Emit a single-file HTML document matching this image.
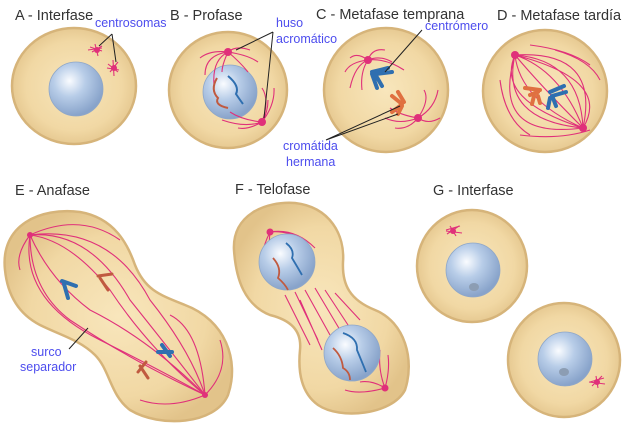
<!DOCTYPE html>
<html><head><meta charset="utf-8"><style>
html,body{margin:0;padding:0;background:#fff;}
svg{display:block;}
text{font-family:"Liberation Sans",sans-serif;}
.t{font-size:14.5px;fill:#333;}
.b{font-size:12.5px;fill:#4d4dee;}
.cell{fill:url(#cg);stroke:#d6b47a;stroke-width:2.5;}
.nuc{fill:url(#ng);stroke:#8fa7c8;stroke-width:0.8;}
.sp{fill:none;stroke:#e0307a;stroke-width:1.1;}
.ln{stroke:#222;stroke-width:1;fill:none;}
</style></head><body>
<svg width="624" height="426" viewBox="0 0 624 426" xmlns="http://www.w3.org/2000/svg">
<defs>
<radialGradient id="cg" cx="50%" cy="50%" r="55%">
<stop offset="0" stop-color="#f8e6bc"/><stop offset="0.7" stop-color="#f1d8a4"/><stop offset="1" stop-color="#e2c38a"/>
</radialGradient>
<radialGradient id="ng" cx="38%" cy="35%" r="65%">
<stop offset="0" stop-color="#fafcff"/><stop offset="0.45" stop-color="#b8cde8"/><stop offset="1" stop-color="#88a3ca"/>
</radialGradient>
</defs>

<text class="t" x="15" y="20">A - Interfase</text>
<text class="t" x="170" y="20">B - Profase</text>
<text class="t" x="316" y="19">C - Metafase temprana</text>
<text class="t" x="497" y="20">D - Metafase tardía</text>
<text class="t" x="15" y="195">E - Anafase</text>
<text class="t" x="235" y="194">F - Telofase</text>
<text class="t" x="433" y="195">G - Interfase</text>

<!-- A -->
<ellipse class="cell" cx="74" cy="86" rx="62" ry="58"/>
<circle class="nuc" cx="76" cy="89" r="27"/>
<g class="sp"><path d="M90,47 l12,4 M92,52 l10,-6 M95,44 l3,12 M88,50 l14,-2 M108,64 l10,8 M110,72 l8,-10 M113,60 l1,16 M107,68 l12,2"/></g>
<circle cx="97" cy="50" r="3" fill="#e0307a"/><circle cx="114" cy="68" r="3" fill="#e0307a"/>
<path class="ln" d="M112,34 L99,46 M112,34 L116,62"/>
<text class="b" x="95" y="27">centrosomas</text>

<!-- B -->
<ellipse class="cell" cx="228" cy="90" rx="59" ry="58"/>
<circle class="nuc" cx="230" cy="92" r="27"/>
<g class="sp">
<path d="M228,52 Q205,55 205,75 M228,52 Q212,60 214,85 M228,52 Q222,65 222,72 M228,52 Q240,62 248,72 M228,52 Q248,55 258,62 M228,52 Q210,50 200,58 M228,52 Q236,45 250,50"/>
<path d="M262,122 Q245,128 222,120 M262,122 Q242,120 230,112 M262,122 Q270,100 262,88 M262,122 Q275,105 274,88 M262,122 Q248,130 238,128 M262,122 Q268,112 268,100"/>
</g>
<circle cx="228" cy="52" r="4" fill="#e0307a"/><circle cx="262" cy="122" r="4" fill="#e0307a"/>
<path d="M217,78 Q210,90 218,98 Q214,105 228,108" stroke="#c05a40" stroke-width="2" fill="none"/>
<path d="M228,76 Q240,86 236,94 Q240,100 243,104" stroke="#2f6fb0" stroke-width="2" fill="none"/>
<path class="ln" d="M273,32 L236,50 M273,32 L264,118"/>
<text class="b" x="276" y="27">huso</text>
<text class="b" x="276" y="43">acromático</text>

<!-- C -->
<ellipse class="cell" cx="386" cy="90" rx="62" ry="62"/>
<g class="sp">
<path d="M368,60 Q355,65 350,88 M368,60 Q360,72 362,90 M368,60 Q350,62 345,72 M368,60 Q380,55 392,62 M368,60 Q386,58 404,70 M368,60 Q372,48 385,50 M368,60 Q357,52 350,58"/>
<path d="M418,118 Q400,125 385,118 M418,118 Q400,115 390,108 M418,118 Q430,100 424,90 M418,118 Q435,108 438,90 M418,118 Q408,130 395,128 M418,118 Q428,125 440,118"/>
</g>
<circle cx="368" cy="60" r="4" fill="#e0307a"/><circle cx="418" cy="118" r="4" fill="#e0307a"/>
<path d="M372,72 L388,68 M376,74 L392,72 M372,74 L377,88 M375,74 L382,86" stroke="#2f6fb0" stroke-width="4" stroke-linecap="round" fill="none"/>
<path d="M392,96 L402,104 M398,92 L404,102 M400,106 L392,112 M402,106 L398,114" stroke="#e07040" stroke-width="4" stroke-linecap="round" fill="none"/>
<path class="ln" d="M422,30 L385,72 M326,140 L400,106 M326,140 L398,114"/>
<text class="b" x="425" y="30">centrómero</text>
<text class="b" x="283" y="150">cromátida</text>
<text class="b" x="286" y="166">hermana</text>

<!-- D -->
<ellipse class="cell" cx="545" cy="91" rx="62" ry="61"/>
<g class="sp">
<path d="M515,55 Q495,100 583,128 M515,55 Q500,120 583,128 M515,55 Q520,100 583,128 M515,55 Q560,70 583,128 M515,55 Q580,60 583,128 M515,55 Q600,50 583,128 M515,55 Q490,140 583,128 M515,55 Q612,80 583,128 M515,55 Q540,85 583,128"/>
<path d="M530,45 Q570,50 590,65 M555,50 Q590,60 600,80 M500,80 Q505,120 530,135 M590,130 Q560,140 520,135"/>
</g>
<circle cx="515" cy="55" r="4" fill="#e0307a"/><circle cx="583" cy="128" r="4" fill="#e0307a"/>
<path d="M525,88 L540,90 M530,95 L538,92 M534,96 L532,104 M538,96 L540,103" stroke="#e07040" stroke-width="4" stroke-linecap="round" fill="none"/>
<path d="M550,92 L564,86 M552,96 L566,92 M550,98 L548,108 M553,98 L556,106" stroke="#2f6fb0" stroke-width="4" stroke-linecap="round" fill="none"/>

<!-- E -->
<path class="cell" d="M5,270 C0,225 40,207 80,212 C115,218 128,245 135,265 C145,290 160,295 185,305 C225,320 240,360 228,395 C215,425 160,428 130,410 C110,395 110,370 95,355 C80,340 60,335 40,325 C15,312 7,290 5,270 Z"/>
<g class="sp">
<path d="M30,235 Q70,240 110,290 Q150,350 205,395"/>
<path d="M30,235 Q50,280 90,310 Q150,340 205,395"/>
<path d="M30,235 Q90,230 130,300 Q170,350 205,395"/>
<path d="M30,235 Q30,290 70,320 Q130,360 205,395"/>
<path d="M30,235 Q110,225 150,300 Q190,350 205,395"/>
<path d="M30,235 Q20,300 100,340 Q160,370 205,395"/>
<path d="M30,235 Q80,212 120,240 M30,235 Q15,255 20,270"/>
<path d="M205,395 Q230,370 220,340 M205,395 Q170,410 140,400 M205,395 Q200,330 170,315"/>
</g>
<circle cx="30" cy="235" r="3" fill="#e0307a"/><circle cx="205" cy="395" r="3" fill="#e0307a"/>
<path d="M62,281 L76,286 M64,284 L68,298" stroke="#2f6fb0" stroke-width="4" stroke-linecap="round" fill="none"/>
<path d="M98,276 L112,274 M100,278 L108,290" stroke="#c05a40" stroke-width="3" stroke-linecap="round" fill="none"/>
<path d="M162,345 L170,356 M158,352 L172,352" stroke="#2f6fb0" stroke-width="4" stroke-linecap="round" fill="none"/>
<path d="M146,362 L138,372 M140,366 L148,378" stroke="#c05a40" stroke-width="3" stroke-linecap="round" fill="none"/>
<path class="ln" d="M69,349 L88,328"/>
<text class="b" x="31" y="356">surco</text>
<text class="b" x="20" y="371">separador</text>

<!-- F -->
<path class="cell" d="M234,250 C232,215 265,201 295,203 C330,207 345,235 343,262 C342,285 350,300 375,310 C405,322 415,360 405,390 C392,415 340,420 318,405 C300,392 298,370 300,350 C302,330 290,320 270,315 C245,305 236,280 234,250 Z"/>
<g class="sp">
<path d="M270,232 Q262,248 262,260 M270,232 Q268,250 272,262 M270,232 Q285,230 305,240 M270,232 Q295,228 315,248"/>
<path d="M385,388 Q378,370 380,350 M385,388 Q372,380 360,382 M385,388 Q360,395 345,390 M385,388 Q390,370 388,355"/>
<path d="M295,292 L318,340 M305,290 L330,335 M315,288 L340,330 M325,290 L350,328 M285,295 L310,345 M335,293 L360,320 M300,300 L322,350"/>
</g>
<circle cx="270" cy="232" r="3.5" fill="#e0307a"/><circle cx="385" cy="388" r="3.5" fill="#e0307a"/>
<circle class="nuc" cx="287" cy="262" r="28"/>
<circle class="nuc" cx="352" cy="353" r="28"/>
<path d="M286,243 Q295,250 292,258 Q298,268 302,275" stroke="#2f6fb0" stroke-width="1.8" fill="none"/>
<path d="M273,258 Q282,268 278,278 Q285,284 288,290" stroke="#c05a40" stroke-width="1.8" fill="none"/>
<path d="M343,333 Q358,338 357,350 Q362,362 366,372" stroke="#2f6fb0" stroke-width="1.8" fill="none"/>
<path d="M333,348 Q342,356 343,368 Q350,372 350,380" stroke="#c05a40" stroke-width="1.8" fill="none"/>

<!-- G -->
<ellipse class="cell" cx="472" cy="266" rx="55" ry="56"/>
<circle class="nuc" cx="473" cy="270" r="27"/>
<ellipse cx="474" cy="287" rx="5" ry="4" fill="#8c9db3"/>
<g class="sp"><path d="M446,230 l14,-4 M447,234 l12,-8 M450,226 l6,10 M446,231 l16,2"/></g>
<circle cx="453" cy="231" r="3" fill="#e0307a"/>
<ellipse class="cell" cx="564" cy="360" rx="56" ry="57"/>
<circle class="nuc" cx="565" cy="359" r="27"/>
<ellipse cx="564" cy="372" rx="5" ry="4" fill="#8c9db3"/>
<g class="sp"><path d="M590,382 l14,-4 M592,386 l10,-10 M596,376 l2,12 M589,382 l16,2"/></g>
<circle cx="597" cy="382" r="3" fill="#e0307a"/>
</svg>
</body></html>
